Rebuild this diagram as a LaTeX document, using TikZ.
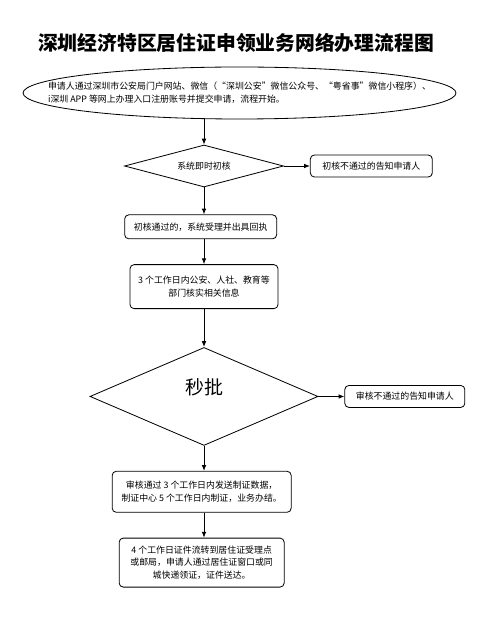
\documentclass[tikz,border=0pt]{standalone}
\usepackage{fontspec}
\usepackage{tikz}
\usetikzlibrary{shapes.geometric, arrows.meta, positioning}
\setmainfont{Noto Sans CJK SC}
\newcommand{\boxfont}{\fontsize{7.6pt}{11pt}\selectfont}
\tikzstyle{startstop} = [ellipse, draw, line width=0.7pt, minimum width=12.99cm, minimum height=1.56cm, align=left, font=\boxfont, inner xsep=-1.5cm, inner ysep=0pt]
\tikzstyle{decision} = [diamond, draw, line width=0.7pt, inner sep=0pt, text centered]
\tikzstyle{process} = [rectangle, rounded corners=3.5pt, draw, line width=0.7pt, align=center, font=\boxfont, inner sep=1pt]
\tikzstyle{arrow} = [line width=0.8pt, -{Latex[length=5pt,width=4pt]}]

\begin{document}
\begin{tikzpicture}
    \useasboundingbox (0,0) rectangle (14.82,-18.66);
    \node[font=\fontsize{16.9pt}{20pt}\selectfont\bfseries] (title) at (7.08,-1.29) {深圳经济特区居住证申领业务网络办理流程图};
    \node[startstop] (apply) at (7.185,-2.79) {申请人通过深圳市公安局门户网站、微信（“深圳公安”微信公众号、“粤省事”微信小程序）、\\i深圳 APP 等网上办理入口注册账号并提交申请，流程开始。};
    \node[decision, aspect=3.8, minimum width=4.77cm, minimum height=1.26cm, font=\boxfont] (precheck) at (6.12,-4.98) {系统即时初核};
    \node[process, right=0.78cm of precheck, minimum width=3.66cm, minimum height=0.66cm] (prefail) {初核不通过的告知申请人};
    \node[process, below=0.81cm of precheck, xshift=-0.1cm, minimum width=4.56cm, minimum height=0.72cm] (accept) {初核通过的，系统受理并出具回执};
    \node[process, below=0.75cm of accept, xshift=0.1cm, minimum width=4.44cm, minimum height=1.32cm] (verify) {3 个工作日内公安、人社、教育等\\部门核实相关信息};
    \node[decision, aspect=2.33, below=1.14cm of verify, minimum width=6.84cm, minimum height=2.94cm, font=\fontsize{16.2pt}{19pt}\selectfont, text depth=0.6cm] (approve) {秒批};
    \node[process, right=0.78cm of approve, minimum width=3.6cm, minimum height=0.66cm] (reject) {审核不通过的告知申请人};
    \node[process, below=0.75cm of approve, xshift=-0.07cm, minimum width=5.37cm, minimum height=1.23cm] (produce) {审核通过 3 个工作日内发送制证数据，\\制证中心 5 个工作日内制证，业务办结。};
    \node[process, below=0.75cm of produce, minimum width=4.95cm, minimum height=1.47cm] (deliver) {4 个工作日证件流转到居住证受理点\\或邮局，申请人通过居住证窗口或同\\城快递领证，证件送达。};

    \draw[arrow] (precheck.north |- apply.south) -- (precheck.north);
    \draw[arrow] (precheck) -- (prefail);
    \draw[arrow] (precheck.south) -- (precheck.south |- accept.north);
    \draw[arrow] (precheck.south |- accept.south) -- (precheck.south |- verify.north);
    \draw[arrow] (precheck.south |- verify.south) -- (approve.north);
    \draw[arrow] (approve.east) -- (approve.east -| reject.west);
    \draw[arrow] (approve.south) -- (approve.south |- produce.north);
    \draw[arrow] (approve.south |- produce.south) -- (approve.south |- deliver.north);
\end{tikzpicture}
\end{document}
